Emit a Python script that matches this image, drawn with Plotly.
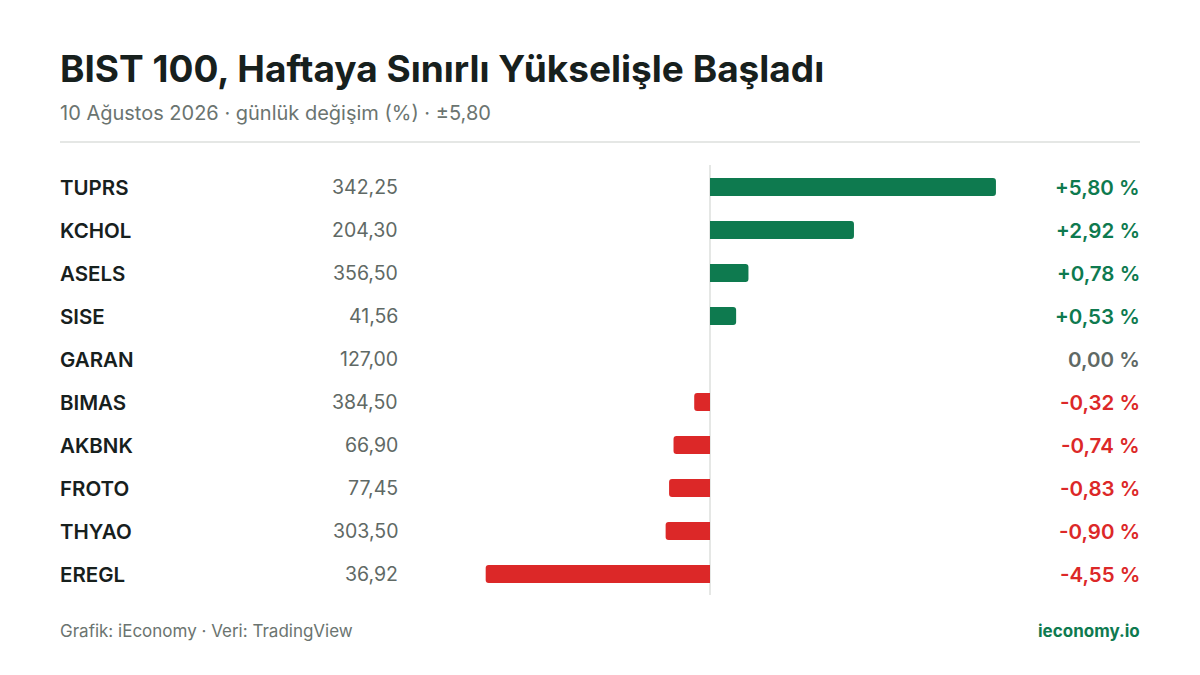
import plotly.graph_objects as go

tickers = ["TUPRS","KCHOL","ASELS","SISE","GARAN","BIMAS","AKBNK","FROTO","THYAO","EREGL"]
prices = ["342,25","204,30","356,50","41,56","127,00","384,50","66,90","77,45","303,50","36,92"]
changes = [5.80, 2.92, 0.78, 0.53, 0.00, -0.32, -0.74, -0.83, -0.90, -4.55]

GREEN = "#0e7a4f"; RED = "#dc2828"; GRAY = "#5f6965"; DARK = "#17201d"
W, H = 1200, 675
OFF = 8  # page body offset
def px(x): return (x - OFF) / W
def py(y): return 1 - (y - OFF) / H
x0px, ppu = 710 - OFF, 49.3
y0px, rowpx = 187 - OFF, 43

def col(v):
    return GREEN if v > 0 else (RED if v < 0 else GRAY)

def fmt(v):
    s = f"{abs(v):.2f}".replace(".", ",")
    return ("+" if v > 0 else "-" if v < 0 else "") + s + " %"

idx = list(range(len(tickers)))
fig = go.Figure(go.Bar(x=changes, y=idx, orientation="h", width=0.42,
                       marker=dict(color=[col(v) for v in changes], line=dict(width=0), cornerradius=3),
                       hoverinfo="skip"))

ann = []
for i, (t, p, v) in enumerate(zip(tickers, prices, changes)):
    ann.append(dict(x=px(58), y=i, xref="paper", yref="y", text=t, showarrow=False,
                    xanchor="left", font=dict(size=20.5, color=DARK, family="Inter", weight=600)))
    ann.append(dict(x=px(400), y=i, xref="paper", yref="y", text=p, showarrow=False,
                    xanchor="right", font=dict(size=19.5, color=GRAY, family="Inter")))
    ann.append(dict(x=px(1142), y=i, xref="paper", yref="y", text=fmt(v), showarrow=False,
                    xanchor="right", font=dict(size=20.5, color=col(v), family="Inter", weight=600)))

ann += [
    dict(x=px(58), y=py(68), xref="paper", yref="paper", text="BIST 100, Haftaya Sınırlı Yükselişle Başladı",
         showarrow=False, xanchor="left", yanchor="middle", font=dict(size=37, color=DARK, family="Inter", weight=700)),
    dict(x=px(58), y=py(113), xref="paper", yref="paper", text="10 Ağustos 2026 · günlük değişim (%) · ±5,80",
         showarrow=False, xanchor="left", yanchor="middle", font=dict(size=20, color="#6b7470", family="Inter")),
    dict(x=px(58), y=py(631), xref="paper", yref="paper", text="Grafik: iEconomy · Veri: TradingView",
         showarrow=False, xanchor="left", yanchor="middle", font=dict(size=17, color="#6b7470", family="Inter")),
    dict(x=px(1142), y=py(631), xref="paper", yref="paper", text="ieconomy.io",
         showarrow=False, xanchor="right", yanchor="middle", font=dict(size=17, color=GREEN, family="Inter", weight=700)),
]

shapes = [
    dict(type="line", xref="paper", yref="paper", x0=px(60), x1=px(1140), y0=py(142), y1=py(142),
         line=dict(color="#dcdfdd", width=1.5)),
    dict(type="line", xref="x", yref="y", x0=0, x1=0, y0=-0.51, y1=9.49,
         line=dict(color="#dcdfdd", width=1.5), layer="below"),
]

fig.update_layout(
    width=W, height=H, margin=dict(l=0, r=0, t=0, b=0),
    paper_bgcolor="white", plot_bgcolor="white", showlegend=False,
    xaxis=dict(range=[-x0px/ppu, (W-x0px)/ppu], visible=False, fixedrange=True),
    yaxis=dict(range=[(H-y0px)/rowpx, -y0px/rowpx], visible=False, fixedrange=True),
    annotations=ann, shapes=shapes, font=dict(family="Inter"),
)
fig.write_html("out.html")
